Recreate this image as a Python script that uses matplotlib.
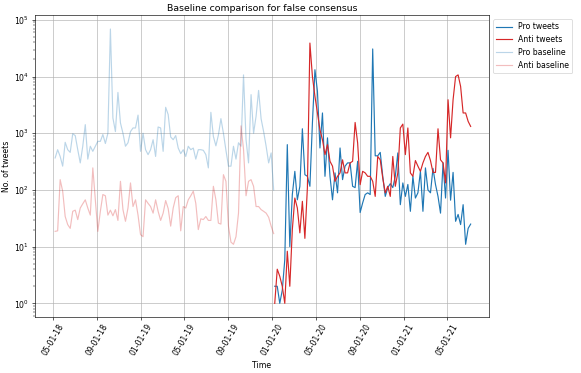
import numpy as np
import pandas as pd
import matplotlib
matplotlib.use('Agg')
import matplotlib.pyplot as plt
import matplotlib.dates as mdates

# weekly counts
pro_baseline = [367, 513, 390, 263, 692, 513, 460, 980, 910, 513, 300, 590, 1420, 350, 590,
                480, 590, 720, 720, 950, 660, 1000, 69000, 1860, 1070, 5250, 1520, 1000, 590, 680,
                1070, 1240, 1240, 2090, 480, 1000, 513, 420, 513, 770, 390, 1290, 1240, 480, 2870,
                2140, 860, 770, 910, 548, 437, 513, 390, 590, 513, 548, 350, 513, 513, 500,
                420, 245, 2340, 880, 600, 930, 1810, 1000, 500, 263, 263, 590, 350, 680, 590,
                10700, 770, 300, 4800, 1000, 2000, 5700, 1800, 1070, 590, 300, 450, 100]
anti_baseline = [18.6, 19, 152, 95, 34, 24.5, 21, 42, 44, 30, 48, 57, 67, 48, 36,
                 245, 67, 18.6, 42, 83, 79, 36, 44, 35, 45, 29, 142, 45, 28, 48,
                 133, 51, 67, 36, 16.3, 15, 67, 58, 51, 39, 67, 42, 29, 39, 65,
                 47, 23, 48, 73, 79, 19, 51, 48, 67, 79, 95, 58, 20, 31, 30,
                 34, 29, 29, 116, 67, 26, 25, 186, 142, 23, 12, 11, 15, 39, 1350,
                 520, 79, 142, 152, 116, 51, 51, 45, 42, 39, 33, 23, 17]
pro_tweets = [2, 2, 1, 1.7, 5.9, 630, 10, 83, 213, 67, 116, 1200, 186, 174, 116,
              1520, 13200, 5500, 550, 2280, 174, 830, 174, 67, 200, 89, 550, 152, 263, 300,
              300, 116, 110, 320, 40, 59, 83, 89, 83, 30700,
              400, 400, 460, 174, 77, 110, 129, 110, 174, 450, 55, 133, 77, 125, 42,
              174, 72, 89, 213, 42, 245, 100, 89, 240, 125, 77, 39, 300, 72, 500,
              66, 204, 28, 37, 24.5, 55, 11, 21, 25]
anti_tweets = [1, 4, 3, 2, 1, 8.3, 2, 20, 72, 48, 17.5, 63, 14, 110, 39000,
               10000, 4500, 2280, 1150, 770, 420, 630, 320, 263, 142, 174, 200, 340, 200, 200,
               300, 320, 1550, 676, 124, 213, 200, 174, 174, 142,
               77, 390, 340, 162, 89, 116, 77, 390, 116, 200, 1240, 1450, 420, 1240, 200,
               174, 330, 263, 213, 300, 390, 460, 330, 204, 204, 1200, 340, 300, 133, 3900,
               830, 3900, 10000, 10700, 6700, 2280, 2280, 1620, 1320]

baseline_dates = pd.date_range('2018-05-06', periods=len(pro_baseline), freq='7D')
tweet_dates = pd.date_range('2020-01-08', periods=len(pro_tweets), freq='7D')

fig = plt.figure(figsize=(581 / 56, 373 / 56), dpi=56)
ax = fig.add_axes([0.0597, 0.150, 0.7825, 0.809])

ax.plot(tweet_dates, pro_tweets, color='tab:blue', label='Pro tweets')
ax.plot(tweet_dates, anti_tweets, color='tab:red', label='Anti tweets')
ax.plot(baseline_dates, pro_baseline, color='tab:blue', alpha=0.3, label='Pro baseline')
ax.plot(baseline_dates, anti_baseline, color='tab:red', alpha=0.3, label='Anti baseline')

ax.set_yscale('log')
ax.set_xlim(pd.Timestamp('2018-03-10'), pd.Timestamp('2021-08-28'))
ax.xaxis.set_major_locator(mdates.MonthLocator(bymonth=[1, 5, 9]))
ax.xaxis.set_major_formatter(mdates.DateFormatter('%m-%d-%y'))
plt.setp(ax.get_xticklabels(), rotation=60)
ax.grid(True)

ax.set_title('Baseline comparison for false consensus')
ax.set_xlabel('Time')
ax.set_ylabel('No. of tweets')
ax.legend(bbox_to_anchor=(1, 1), loc='upper left')

fig.savefig('out.png', dpi=56)
